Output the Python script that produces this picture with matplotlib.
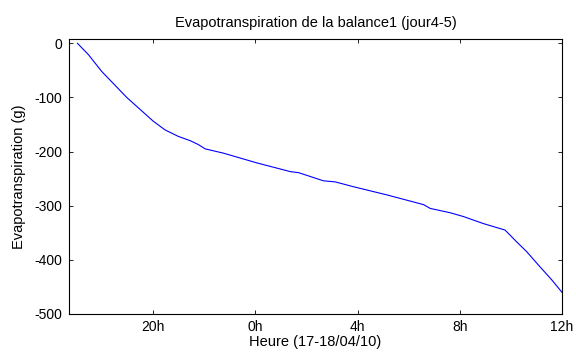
import numpy as np
import matplotlib
matplotlib.use("Agg")
import matplotlib.pyplot as plt

# hours since midnight of 17/04 (24 = 0h on 18/04)
heure = [17.03, 17.46, 17.98, 18.96, 20.0, 20.46, 20.98, 21.45, 21.76, 22.03,
         22.75, 24.06, 25.36, 25.69, 26.66, 27.12, 27.84, 29.14, 30.58, 30.84,
         31.62, 32.14, 32.92, 33.77, 34.23, 34.62, 35.14, 35.60, 36.0]
evapo = [0, -21, -52, -100, -144, -160, -172, -180, -187, -195,
         -203, -221, -237, -239, -254, -256, -265, -280, -298, -305,
         -313, -320, -333, -345, -367, -385, -413, -437, -460]

xticks = [20, 24, 28, 32, 36]
xticklabels = ['20h', '0h', '4h', '8h', '12h']
yticks = [0, -100, -200, -300, -400, -500]

plt.rcParams['font.family'] = ['Liberation Sans', 'DejaVu Sans']
plt.rcParams['font.size'] = 10
plt.rcParams['axes.unicode_minus'] = False

fig = plt.figure(figsize=(5.76, 3.52), dpi=100)
ax = fig.add_axes([0.1198, 0.108, 0.8559, 0.7798])

ax.plot(heure, evapo, color='#0000ff', lw=0.8)

ax.set_xlim(16.7, 36.0)
ax.set_ylim(-500, 7)
ax.set_xticks(xticks)
ax.set_xticklabels(xticklabels)
ax.set_yticks(yticks)
ax.tick_params(direction='in', top=True, right=True, length=3, width=0.6)
ax.tick_params(axis='x', pad=4)
ax.tick_params(axis='y', pad=5)
for s in ax.spines.values():
    s.set_linewidth(0.8)

ax.set_title('Evapotranspiration de la balance1 (jour4-5)', fontsize=10.5, pad=9)
ax.set_xlabel('Heure (17-18/04/10)', fontsize=10.5, labelpad=1)
ax.set_ylabel('Evapotranspiration (g)', fontsize=10.5, labelpad=6)

fig.savefig('out.png', dpi=100)
